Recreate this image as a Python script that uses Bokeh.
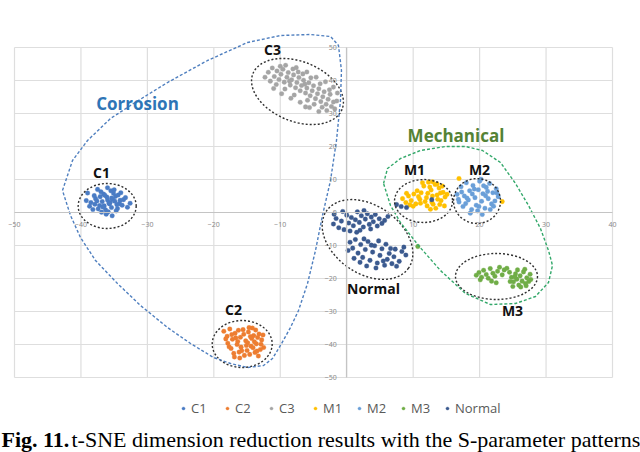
from bokeh.plotting import figure
from bokeh.models import Range1d, LinearAxis, FixedTicker, Legend, LegendItem, Label
from bokeh.core.properties import value
from bokeh.embed import file_html
from bokeh.resources import INLINE

# ---------------- data ----------------
x_ticks = [-50, -40, -30, -20, -10, 0, 10, 20, 30, 40]
y_ticks = [-50, -40, -30, -20, -10, 0, 10, 20, 30, 40, 50]

series_names = ["C1", "C2", "C3", "M1", "M2", "M3", "Normal"]
series_colors = ["#4a7cc4", "#ed7d31", "#a5a5a5", "#ffc000", "#6a9fd8", "#70ad47", "#3b5a8f"]

c1_x = [-38.5, -37.8, -37.2, -36.6, -36.0, -35.4, -34.8, -34.2, -33.6, -37.0, -36.3, -35.7, -35.1, -34.5,
        -36.8, -36.1, -35.5, -34.9, -37.4, -36.5, -35.9, -35.2, -34.4, -33.8, -38.0, -37.1, -36.2, -35.6,
        -34.7, -33.3, -39.2, -38.7, -37.5, -36.9, -36.4, -35.8, -35.0, -34.1, -33.0, -32.6, -39.0, -38.2,
        -37.6, -35.3, -34.6, -36.7, -35.4, -36.0, -37.9, -34.0]
c1_y = [3.0, 4.2, 2.1, 5.6, 3.8, 1.5, 4.9, 2.7, 3.9, 6.3, 0.8, 2.6, 5.8, 1.2, 3.3, 4.7, 6.6, 3.4, 1.1, 2.0,
        0.2, 4.0, 5.3, 2.2, 5.1, 4.8, -0.5, 3.1, 0.5, 4.5, 3.6, 1.9, 7.0, 0.1, 5.2, 2.9, 6.9, 3.7, 1.6, 2.8,
        5.9, 0.9, 3.5, -1.0, 2.4, 1.7, 4.4, 7.5, 2.5, 6.0]

c2_x = [-18.5, -18.0, -17.6, -17.9, -17.2, -16.8, -17.4, -16.5, -16.0, -15.6, -16.2, -15.2, -14.8, -14.4,
        -14.0, -13.6, -13.2, -12.8, -12.5, -15.0, -14.6, -14.2, -13.8, -13.4, -13.0, -16.7, -16.3, -15.9,
        -15.4, -14.9, -14.5, -14.1, -13.7, -13.3, -12.9, -17.0, -16.4, -15.8, -18.2, -17.7, -16.9, -15.5,
        -14.3, -13.5, -12.6, -15.1, -14.7, -13.9, -16.1, -17.3]
c2_y = [-36.0, -37.5, -35.3, -39.6, -38.4, -36.6, -41.2, -40.0, -37.8, -35.5, -42.3, -38.9, -36.2, -40.5,
        -37.3, -39.8, -36.8, -38.6, -40.9, -41.8, -43.0, -35.0, -42.4, -37.9, -41.5, -38.0, -35.7, -40.8,
        -43.3, -39.5, -37.6, -41.0, -35.6, -43.5, -39.9, -42.7, -39.1, -41.9, -38.3, -40.7, -43.8, -36.9,
        -38.2, -42.0, -37.1, -40.3, -34.9, -39.2, -44.1, -37.0]

c3_x = [-11.8, -11.2, -10.9, -10.5, -10.2, -9.9, -9.6, -9.4, -9.0, -8.8, -8.5, -8.3, -8.0, -7.7, -7.5,
        -7.2, -7.0, -6.8, -6.5, -6.2, -6.0, -5.7, -5.5, -5.2, -5.0, -4.7, -4.4, -4.2, -3.9, -3.6, -3.4,
        -3.1, -2.8, -2.5, -2.3, -2.0, -1.8, -12.3, -10.0, -8.1, -6.6, -5.9, -4.0, -3.0, -9.3, -7.9, -11.5,
        -6.3, -4.9, -2.6, -1.5, -8.6, -7.3, -5.4, -3.7,
        -9.2, -7.6, -6.0, -4.6, -3.2, -2.0, -1.4, -11.0, -9.8, -8.4, -7.0, -5.6, -4.2, -10.6, -6.2]
c3_y = [42.5, 43.8, 41.2, 42.9, 40.3, 41.9, 43.4, 39.5, 41.0, 42.4, 38.6, 40.2, 41.7, 37.8, 39.4, 40.9,
        36.9, 38.5, 40.1, 36.2, 37.7, 39.3, 35.4, 36.9, 38.4, 34.5, 36.0, 37.5, 33.6, 35.1, 36.6, 32.8,
        34.3, 35.8, 32.1, 33.5, 31.4, 41.0, 44.3, 43.5, 42.0, 34.0, 39.0, 30.9, 37.4, 35.6, 39.8, 38.9,
        32.8, 37.2, 33.8, 39.8, 42.6, 40.8, 31.9,
        44.6, 43.9, 42.6, 41.0, 39.6, 38.0, 36.2, 37.6, 36.0, 34.6, 33.4, 31.8, 30.6, 38.8, 32.0]

m1_x = [11.2, 11.6, 12.0, 12.3, 12.7, 13.0, 13.3, 13.6, 13.9, 14.2, 14.5, 14.8, 12.1, 12.9, 13.4, 14.0,
        11.8, 12.5, 12.9, 13.6, 14.4, 14.7, 15.1, 11.4, 12.2, 13.7, 12.6, 11.0, 14.1, 12.8,
        8.4, 8.9, 9.3, 9.7, 10.1, 10.4, 10.8, 9.0, 10.0, 10.6, 9.5, 11.1, 16.9, 23.4]
m1_y = [6.0, 8.0, 4.5, 9.2, 6.8, 2.5, 8.5, 5.3, 7.4, 3.6, 6.1, 4.7, 2.0, 5.0, 1.3, 2.4,
        3.3, 7.7, 9.3, 8.6, 8.0, 2.0, 5.5, 9.0, 5.8, 4.0, 1.0, 4.0, 5.9, 3.2,
        4.2, 3.0, 5.0, 3.6, 5.6, 2.6, 4.8, 5.8, 1.9, 6.6, 2.3, 2.8, 10.3, 3.3]

m2_x = [16.6, 16.9, 17.2, 17.5, 17.7, 18.0, 18.3, 18.5, 18.8, 19.0, 19.3, 19.5, 19.8, 20.0, 20.3, 20.5,
        20.8, 21.0, 21.3, 21.5, 21.8, 22.0, 22.3, 22.5, 22.8, 17.9, 18.9, 19.7, 20.6, 21.6, 22.1, 17.3,
        19.2, 20.9, 18.1, 21.2, 19.9, 16.8, 22.6, 20.2, 20.4, 18.6]
m2_y = [5.5, 3.2, 7.8, 1.8, 5.0, 9.0, 3.8, 6.6, 0.9, 8.2, 4.5, 2.2, 6.9, 9.5, 3.4, 5.7,
        1.3, 7.6, 4.2, 8.8, 2.6, 6.0, 3.5, 7.2, 4.8, 2.7, 5.6, 0.5, 8.1, 0.9, 1.9, 6.2,
        7.1, 5.1, 4.4, 6.4, 1.8, 4.0, 5.9, 10.1, -0.6, -0.2]

m3_x = [19.5, 19.9, 20.3, 20.6, 21.0, 21.3, 21.6, 22.0, 22.3, 22.7, 23.0, 23.4, 23.7, 20.1, 21.8, 22.5,
        24.1, 24.5, 24.8, 25.1, 25.4, 25.6, 25.9, 26.1, 26.4, 26.6, 26.9, 27.1, 27.4, 27.6, 25.0, 26.2,
        27.0, 25.7, 24.6, 26.8, 27.7, 25.3, 10.7]
m3_y = [-19.0, -18.2, -19.6, -17.5, -18.8, -19.9, -17.0, -18.4, -19.3, -17.8, -16.6, -18.9, -17.4, -20.4,
        -20.8, -21.3, -16.9, -18.1, -19.6, -21.0, -18.6, -20.2, -22.0, -19.2, -20.8, -18.0, -21.5, -19.8,
        -20.9, -18.7, -22.4, -22.6, -22.2, -17.4, -20.9, -17.2, -20.3, -19.5, -10.3]

normal_x = [-2.0, -1.6, -1.2, -0.8, -0.4, 0.0, 0.3, 0.7, 1.0, 1.3, 1.6, 1.9, 2.2, 2.5, 2.8, 3.1, 3.4, 3.7,
            4.0, 4.3, 4.6, 4.9, 5.3, 5.7, 0.5, 1.5, -1.9, 2.0, 3.6, 6.2, -0.6, 2.6,
            0.5, 0.9, 1.3, 1.7, 2.1, 2.4, 2.8, 3.2, 3.5, 3.9, 4.2, 4.6, 5.0, 5.3, 5.7, 6.1, 6.4, 6.8,
            7.1, 7.5, 7.9, 8.3, 8.6, 8.9, 1.1, 2.0, 3.0, 4.4, 5.9, 6.6, 0.2, 4.8, 7.3, 5.5, 3.7, 2.6,
            7.5, 8.2, 9.0, 12.8]
normal_y = [-3.5, -1.8, -4.6, -2.6, -5.2, -0.8, -3.2, -1.5, -4.0, -2.2, 0.2, -3.0, -1.0, -4.4, -2.0, -0.4,
            -3.6, -1.4, -2.8, -0.6, -4.1, -1.9, -3.3, -2.4, -5.6, -6.0, -0.5, -5.4, -5.0, -1.2, 0.3, 0.6,
            -9.0, -10.8, -8.2, -12.3, -9.7, -13.6, -11.2, -8.8, -14.5, -12.0, -10.1, -15.3, -13.0, -11.0,
            -16.0, -14.2, -12.4, -15.5, -13.4, -16.3, -14.8, -11.8, -10.5, -12.9, -13.9, -15.1, -16.2,
            -16.8, -9.6, -10.9, -11.5, -8.6, -11.1, -14.7, -9.9, -8.0,
            2.4, 1.8, 1.5, 3.9]

# cluster outlines (centre x, centre y, width, height in data units, angle in radians)
ell_x = [-36.05, -15.73, -7.41, 3.13, 11.56, 19.61, 22.54]
ell_y = [1.97, -39.85, 36.67, -8.18, 3.48, 3.48, -19.39]
ell_w = [8.73, 9.03, 14.45, 15.05, 8.73, 7.07, 12.34]
ell_h = [13.64, 14.24, 18.18, 20.6, 13.0, 13.6, 13.94]
ell_a = [0.0, 0.0, -0.38, -0.61, 0.0, 0.0, 0.0]

corrosion_x = [-42.78, -41.27, -39.01, -35.55, -32.09, -26.97, -20.95, -14.93, -9.97, -5.45, -2.44, -1.24,
               -0.79, -0.94, -1.54, -2.44, -3.65, -4.70, -5.90, -7.26, -8.46, -9.97, -11.17, -12.52, -14.93,
               -17.49, -20.05, -23.51, -26.97, -31.04, -34.50, -37.81, -40.07, -41.57, -42.78]
corrosion_y = [6.67, 15.76, 21.82, 28.48, 33.03, 39.39, 46.06, 51.52, 53.64, 53.94, 53.33, 50.61,
               43.03, 33.94, 21.82, 9.70, -0.91, -11.52, -21.52, -29.70, -34.85, -40.30, -44.24, -46.36, -46.97,
               -45.76, -43.94, -39.70, -34.85, -28.18, -21.52, -14.55, -7.58, -0.91, 6.67]

mechanical_x = [5.54, 6.14, 8.09, 11.10, 14.87, 17.88, 20.44, 23.14, 25.40, 27.36, 29.16, 30.37, 30.97,
                30.37, 28.41, 25.40, 21.64, 17.88, 14.11, 10.80, 8.09, 6.59, 5.54]
mechanical_y = [8.79, 13.33, 16.36, 18.79, 20.0, 20.0, 18.79, 15.15, 8.79, 2.12, -4.85, -11.52, -16.06,
                -21.21, -25.45, -27.58, -27.88, -24.55, -17.58, -10.0, -3.03, 2.12, 8.79]

lab_text = ["C1", "C2", "C3", "M1", "M2", "M3", "Normal"]
lab_x = [-36.91, -17.04, -11.17, 10.2, 19.98, 24.95, 4.03]
lab_y = [12.1, -29.4, 49.4, 13.0, 13.0, -29.7, -23.0]

caption_bold = "Fig. 11."
caption_rest = "t-SNE dimension reduction results with the S-parameter patterns"

# ---------------- figure ----------------
p = figure(width=640, height=452, output_backend="svg", toolbar_location=None,
           x_range=Range1d(-52.107, 44.214), y_range=Range1d(-72.727, 64.242),
           x_axis_location=None, y_axis_location=None, min_border=0, title=None)
p.grid.visible = False
p.outline_line_color = None
p.background_fill_color = "white"
p.border_fill_color = "white"

grid_col = "#dedede"
p.segment(x0=x_ticks, y0=[y_ticks[0]] * len(x_ticks), x1=x_ticks, y1=[y_ticks[-1]] * len(x_ticks),
          line_color=grid_col, line_width=1.2)
p.segment(x0=[x_ticks[0]] * len(y_ticks), y0=y_ticks, x1=[x_ticks[-1]] * len(y_ticks), y1=y_ticks,
          line_color=grid_col, line_width=1.2)

for ax_kw in (dict(ticks=x_ticks, side="below"), dict(ticks=y_ticks, side="left")):
    ticks = ax_kw["ticks"]
    ax = LinearAxis(fixed_location=0, ticker=FixedTicker(ticks=ticks), bounds=(ticks[0], ticks[-1]))
    ax.axis_line_color = "#c4c4c4"
    ax.axis_line_width = 1.2
    ax.major_tick_line_color = None
    ax.minor_tick_line_color = None
    ax.major_label_text_font = "Noto Sans"
    ax.major_label_text_font_size = "7px"
    ax.major_label_text_color = "#8a8a8a"
    ax.major_label_standoff = 4
    if ax_kw["side"] == "below":
        ax.major_label_overrides = {0: ""}
    p.add_layout(ax, ax_kw["side"])

all_x = [c1_x, c2_x, c3_x, m1_x, m2_x, m3_x, normal_x]
all_y = [c1_y, c2_y, c3_y, m1_y, m2_y, m3_y, normal_y]
renderers = []
for xs, ys, col in zip(all_x, all_y, series_colors):
    r = p.scatter(x=xs, y=ys, size=4.6, fill_color=col, line_color=col, line_width=0.3)
    renderers.append(r)

p.ellipse(x=ell_x, y=ell_y, width=ell_w, height=ell_h, angle=ell_a, fill_color=None,
          line_color="#303030", line_dash="2 2", line_width=1.4)

p.line(corrosion_x, corrosion_y, line_color="#4f7fbf", line_dash="3 2", line_width=1.4)
p.line(mechanical_x, mechanical_y, line_color="#33a86a", line_dash="3 2", line_width=1.4)

p.text(x=lab_x, y=lab_y, text=lab_text, text_font=value("Open Sans"), text_font_style="bold",
       text_font_size="14px", text_color="#111111", text_align="center", text_baseline="middle")
p.text(x=[-31.49], y=[33.0], text=["Corrosion"], text_font=value("Open Sans"), text_font_style="bold",
       text_font_size="17px", text_color="#2e75b6", text_align="center", text_baseline="middle")
p.text(x=[16.45], y=[23.3], text=["Mechanical"], text_font=value("Open Sans"), text_font_style="bold",
       text_font_size="17px", text_color="#548235", text_align="center", text_baseline="middle")

legend = Legend(items=[LegendItem(label=n, renderers=[r]) for n, r in zip(series_names, renderers)],
                orientation="horizontal", location=(179, 35))
legend.label_text_font = "Open Sans"
legend.label_text_font_size = "13px"
legend.label_text_color = "#595959"
legend.glyph_width = 8
legend.glyph_height = 16
legend.label_standoff = 4
legend.spacing = 12
legend.padding = 0
legend.margin = 0
legend.border_line_color = None
legend.background_fill_alpha = 0
p.add_layout(legend)

p.add_layout(Label(x=1, y=13, x_units="screen", y_units="screen", text=caption_bold,
                   text_font="Liberation Serif", text_font_style="bold", text_font_size="22px",
                   text_color="black", text_baseline="alphabetic"))
p.add_layout(Label(x=71, y=13, x_units="screen", y_units="screen", text=caption_rest,
                   text_font="Liberation Serif", text_font_size="22px",
                   text_color="black", text_baseline="alphabetic"))

open("out.html", "w").write(file_html(p, INLINE))
